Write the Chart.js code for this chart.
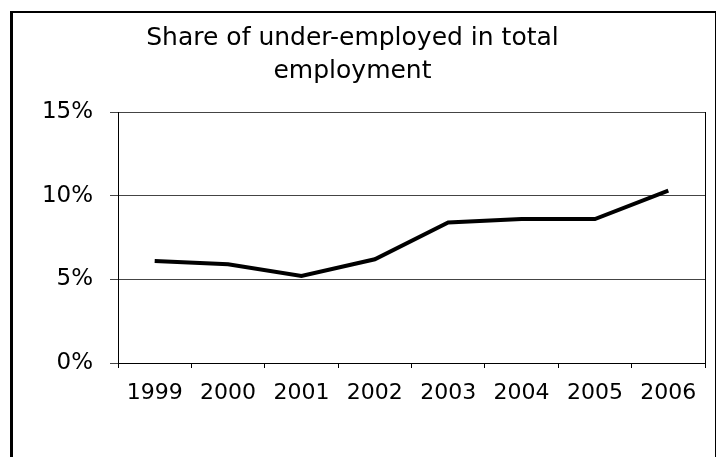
<!DOCTYPE html>
<html>
<head>
<meta charset="utf-8">
<script src="https://cdn.jsdelivr.net/npm/chart.js@4.4.1/dist/chart.umd.min.js"></script>
<style>
  html, body { margin: 0; padding: 0; background: #fff; }
  #wrap { position: relative; width: 716px; height: 457px; overflow: hidden; }
  #frame {
    position: absolute; left: 10px; top: 11px; width: 702px; height: 480px;
    border-left: 3px solid #000; border-top: 2px solid #000; border-right: 1px solid #000;
  }
  canvas { position: absolute; left: 0; top: 0; }
</style>
</head>
<body>
<div id="wrap">
  <div id="frame"></div>
  <canvas id="chart" width="716" height="457"></canvas>
</div>
<script>
const years = ['1999', '2000', '2001', '2002', '2003', '2004', '2005', '2006'];
const shares = [6.1, 5.9, 5.2, 6.2, 8.4, 8.6, 8.6, 10.3];
const titleLines = ['Share of under-employed in total', 'employment'];
const yMin = 0, yMax = 15, yStep = 5;

const FONT = "'DejaVu Sans', 'Liberation Sans', Arial, sans-serif";

// right edge of the plot box
const plotEdge = {
  id: 'plotEdge',
  afterDraw(chart) {
    const { ctx, chartArea } = chart;
    ctx.save();
    ctx.strokeStyle = '#000';
    ctx.lineWidth = 1;
    ctx.beginPath();
    ctx.moveTo(chartArea.right + 0.5, chartArea.top);
    ctx.lineTo(chartArea.right + 0.5, chartArea.bottom);
    ctx.stroke();
    ctx.restore();
  }
};

new Chart(document.getElementById('chart').getContext('2d'), {
  type: 'line',
  data: {
    labels: years,
    datasets: [{
      label: 'Share',
      data: shares,
      borderColor: '#000',
      borderWidth: 4,
      pointRadius: 0,
      tension: 0,
      fill: false,
    }],
  },
  options: {
    responsive: false,
    animation: false,
    layout: { padding: { left: 0, right: 11, top: 0, bottom: 0 } },
    plugins: {
      legend: { display: false },
      tooltip: { enabled: false },
      title: {
        display: true,
        text: titleLines,
        color: '#000',
        font: { family: FONT, size: 25, weight: 'normal', lineHeight: 1.32 },
        padding: { top: 22, bottom: 24 },
      },
    },
    scales: {
      x: {
        offset: true,
        afterFit: s => { s.height = 94; },
        grid: { offset: true, drawOnChartArea: false, drawTicks: true, tickLength: 5, color: '#000' },
        border: { color: '#000', width: 1 },
        ticks: { color: '#000', padding: 12, font: { family: FONT, size: 22 }, maxRotation: 0, autoSkip: false },
      },
      y: {
        min: yMin,
        max: yMax,
        afterFit: s => { s.width = 118; },
        grid: { color: '#444', tickLength: 8, drawTicks: true },
        border: { color: '#000', width: 1 },
        ticks: {
          stepSize: yStep,
          color: '#000',
          padding: 17,
          font: { family: FONT, size: 23 },
          callback: v => v + '%',
        },
      },
    },
  },
  plugins: [plotEdge],
});
</script>
</body>
</html>
